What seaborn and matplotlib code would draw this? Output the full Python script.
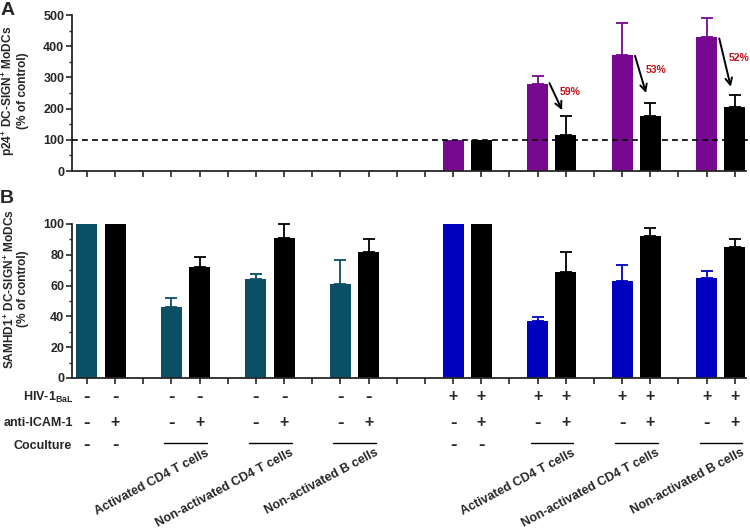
import numpy as np
import pandas as pd
import matplotlib
matplotlib.use("Agg")
import matplotlib.pyplot as plt
import matplotlib.transforms as mtransforms
from matplotlib.ticker import MultipleLocator
import seaborn as sns

# ---------------- data ----------------
slots = list(range(24))

# Panel A: p24+ DC-SIGN+ MoDCs (% of control)
a_pos = [13, 14, 16, 17, 19, 20, 22, 23]
a_val = [100, 100, 278, 116, 372, 175, 428, 206]
a_err = [0, 0, 27, 60, 103, 42, 63, 36]
a_grp = ["hiv", "anti", "hiv", "anti", "hiv", "anti", "hiv", "anti"]

# Panel B: SAMHD1+ DC-SIGN+ MoDCs (% of control)
b_pos = [0, 1, 3, 4, 6, 7, 9, 10, 13, 14, 16, 17, 19, 20, 22, 23]
b_val = [100, 100, 46, 72, 64, 91, 61, 82, 100, 100, 37, 69, 63, 92, 65, 85]
b_err = [0, 0, 6, 6.5, 3.7, 8.7, 15.4, 8, 0, 0, 2.6, 12.8, 10.6, 5.6, 4.6, 5.3]
b_grp = ["mock", "anti", "mock", "anti", "mock", "anti", "mock", "anti",
         "hivb", "anti", "hivb", "anti", "hivb", "anti", "hivb", "anti"]

# arrows / reductions in panel A
arrow_start = [(16.42, 282), (19.46, 369), (22.45, 425)]
arrow_end = [(16.87, 195), (19.85, 250), (22.86, 270)]
pct_labels = ["59%", "53%", "52%"]
pct_xy = [(17.15, 253), (20.2, 324), (23.15, 362)]

# condition table
hiv_pos = [0, 1, 3, 4, 6, 7, 9, 10, 13, 14, 16, 17, 19, 20, 22, 23]
hiv_sym = ["-", "-", "-", "-", "-", "-", "-", "-", "+", "+", "+", "+", "+", "+", "+", "+"]
icam_sym = ["-", "+"] * 8
cocult_pos = [0, 1, 13, 14]
cocult_sym = ["-", "-", "-", "-"]
group_spans = [(3, 4), (6, 7), (9, 10), (16, 17), (19, 20), (22, 23)]
group_names = ["Activated CD4 T cells", "Non-activated CD4 T cells", "Non-activated B cells"] * 2

palette = {"hiv": "#76098f", "anti": "#000000", "mock": "#0a4f63", "hivb": "#0000bf"}

# ---------------- style ----------------
sns.set_theme(style="ticks")
plt.rcParams["font.family"] = ["Liberation Sans", "DejaVu Sans"]
plt.rcParams["font.weight"] = "bold"
plt.rcParams["mathtext.fontset"] = "custom"
plt.rcParams["mathtext.rm"] = "Liberation Sans:bold"
plt.rcParams["mathtext.bf"] = "Liberation Sans:bold"
plt.rcParams["axes.linewidth"] = 1.3

W, H = 750, 532
fig = plt.figure(figsize=(W / 100, H / 100), dpi=100)

def fx(px):
    return px / W

def fy(py):
    return 1 - py / H

axA = fig.add_axes([fx(72), fy(171), fx(746) - fx(72), fy(15) - fy(171)])
axB = fig.add_axes([fx(72), fy(378), fx(746) - fx(72), fy(224) - fy(378)])

dfA = pd.DataFrame({"slot": a_pos, "value": a_val, "grp": a_grp})
dfB = pd.DataFrame({"slot": b_pos, "value": b_val, "grp": b_grp})

for ax, df, errs in [(axA, dfA, a_err), (axB, dfB, b_err)]:
    sns.barplot(data=df, x="slot", y="value", hue="grp", palette=palette,
                order=slots, dodge=False, width=0.746, saturation=1,
                linewidth=0, errorbar=None, legend=False, ax=ax)
    for p, v, e, g in zip(df["slot"], df["value"], errs, df["grp"]):
        if e > 0:
            ax.errorbar([p], [v], yerr=[[0], [e]], fmt="none", ecolor=palette[g],
                        elinewidth=1.3, capsize=4, capthick=1.3, clip_on=False, zorder=3)
    ax.set_xlim(-0.53, 23.4)
    ax.set_xticks(slots)
    ax.set_xticklabels([])
    ax.set_xlabel("")
    ax.set_ylabel("")
    sns.despine(ax=ax)
    ax.tick_params(axis="x", direction="out", length=4, width=1.2)
    ax.tick_params(axis="y", which="major", direction="out", length=4, width=1.2,
                   labelsize=9, pad=1.5)
    ax.tick_params(axis="y", which="minor", direction="out", length=2.5, width=1.0)

axA.set_ylim(0, 500)
axA.yaxis.set_major_locator(MultipleLocator(100))
axA.yaxis.set_minor_locator(MultipleLocator(50))
axA.axhline(100, color="black", lw=1.2, ls=(0, (3.5, 2.5)), zorder=4, clip_on=False,
            xmin=0, xmax=1.01)

axB.set_ylim(0, 100)
axB.yaxis.set_major_locator(MultipleLocator(20))
axB.yaxis.set_minor_locator(MultipleLocator(10))

for ax in (axA, axB):
    for lab in ax.get_yticklabels():
        lab.set_fontweight("bold")

# y-axis titles
fig.text(fx(14), fy(91), "p24$^{+}$ DC-SIGN$^{+}$ MoDCs\n(% of control)", fontsize=8.6,
         fontweight="bold", rotation=90, ha="center", va="center",
         multialignment="center", linespacing=1.05)
fig.text(fx(16), fy(289), "SAMHD1$^{+}$ DC-SIGN$^{+}$ MoDCs\n(% of control)", fontsize=8.6,
         fontweight="bold", rotation=90, ha="center", va="center",
         multialignment="center", linespacing=1.05)

# arrows and percentages
for s, e, t, xy in zip(arrow_start, arrow_end, pct_labels, pct_xy):
    axA.annotate("", xy=e, xytext=s, arrowprops=dict(arrowstyle="->", color="black",
                 lw=1.4, mutation_scale=12, shrinkA=0, shrinkB=0), annotation_clip=False)
    axA.text(xy[0], xy[1], t, color="#c0141b", fontsize=7.6, fontweight="bold",
             ha="center", va="center", clip_on=False)

# panel letters
fig.text(fx(1), fy(2), "A", fontsize=14, fontweight="bold", ha="left", va="top")
fig.text(fx(0), fy(190), "B", fontsize=14, fontweight="bold", ha="left", va="top")

# condition table below panel B
tr = mtransforms.blended_transform_factory(axB.transData, fig.transFigure)
rows_y = [fy(397), fy(423), fy(446)]
fig.text(fx(73), rows_y[0], "HIV-1$_{\\mathbf{BaL}}$", fontsize=9, fontweight="bold",
         ha="right", va="center")
fig.text(fx(73), rows_y[1], "anti-ICAM-1", fontsize=9, fontweight="bold",
         ha="right", va="center")
fig.text(fx(72), rows_y[2], "Coculture", fontsize=9, fontweight="bold",
         ha="right", va="center")

def sym(p, y, s):
    if s == "-":
        axB.text(p, y, s, transform=tr, fontsize=14, fontweight="bold",
                 ha="center", va="center")
    else:
        axB.text(p, y, s, transform=tr, fontsize=11.5, fontweight="bold",
                 ha="center", va="center")

for p, s in zip(hiv_pos, hiv_sym):
    sym(p, rows_y[0], s)
for p, s in zip(hiv_pos, icam_sym):
    sym(p, rows_y[1], s)
for p, s in zip(cocult_pos, cocult_sym):
    sym(p, rows_y[2], s)

for (p0, p1), name in zip(group_spans, group_names):
    line = plt.Line2D([p0 - 0.25, p1 + 0.27], [fy(443), fy(443)], transform=tr,
                      color="black", lw=1.0)
    fig.add_artist(line)
    axB.text(p1 + 0.2, fy(447), name, transform=tr, fontsize=9, fontweight="bold",
             rotation=28, rotation_mode="anchor", ha="right", va="top")

fig.savefig("out.png", dpi=100)
